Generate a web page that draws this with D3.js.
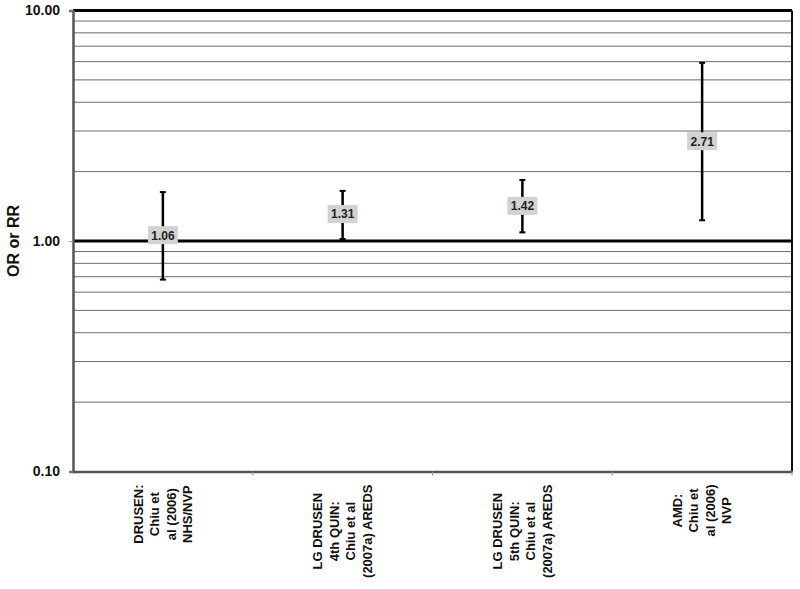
<!doctype html>
<html>
  <head>
    <meta charset="UTF-8">
    <title>OR or RR</title>
    <script src="https://d3js.org/d3.v7.min.js"></script>
    <style>
      body { margin: 0; background: #fff; }
      svg text { font-family: "Liberation Sans", Arial, sans-serif; font-weight: bold; }
    </style>
  </head>
  <body>
    <svg id="chart" width="800" height="589"></svg>
    <script>
      // Study labels (one entry per line of the rotated label)
      const categories = [
        ["DRUSEN:", "Chiu et", "al (2006)", "NHS/NVP"],
        ["LG DRUSEN", "4th QUIN:", "Chiu et al", "(2007a) AREDS"],
        ["LG DRUSEN", "5th QUIN:", "Chiu et al", "(2007a) AREDS"],
        ["AMD:", "Chiu et", "al (2006)", "NVP"]
      ];
      const estimates = [1.06, 1.31, 1.42, 2.71];
      const lower = [0.68, 1.02, 1.09, 1.23];
      const upper = [1.63, 1.65, 1.84, 5.93];
      const yTicks = [0.1, 1, 10];

      const svg = d3.select("#chart");
      const margin = {top: 10.5, right: 8, bottom: 117.5, left: 73};
      const width = 800 - margin.left - margin.right;
      const height = 589 - margin.top - margin.bottom;

      const g = svg.append("g").attr("transform", `translate(${margin.left},${margin.top})`);

      const x = d3.scaleBand().domain(d3.range(categories.length)).range([0, width]);
      const y = d3.scaleLog().domain([0.1, 10]).range([height, 0]);

      // minor grid lines (2..9 in each decade)
      const minor = y.ticks().filter(v => ![0.1, 1, 10].includes(+v.toPrecision(3)));
      g.selectAll(".grid")
        .data(minor)
        .enter().append("line")
          .attr("x1", 0).attr("x2", width)
          .attr("y1", d => y(d)).attr("y2", d => y(d))
          .attr("stroke", "#6e6e6e").attr("stroke-width", 1);

      // heavy lines at 1 and 10
      g.selectAll(".major")
        .data([1, 10])
        .enter().append("line")
          .attr("x1", 0).attr("x2", width)
          .attr("y1", d => y(d)).attr("y2", d => y(d))
          .attr("stroke", "#000").attr("stroke-width", 3);

      // right border
      g.append("line")
        .attr("x1", width).attr("x2", width)
        .attr("y1", 0).attr("y2", height)
        .attr("stroke", "#111").attr("stroke-width", 2);

      // y axis
      const yAxis = g.append("g")
        .call(d3.axisLeft(y).tickValues(yTicks).tickFormat(d3.format(".2f")).tickSize(4).tickPadding(9));
      yAxis.select(".domain").attr("stroke", "#555").attr("stroke-width", 2.5);
      yAxis.selectAll(".tick line").attr("stroke", "#999");
      yAxis.selectAll(".tick text").style("font-size", "14px").attr("fill", "#111");

      // x axis
      const xAxis = g.append("g")
        .attr("transform", `translate(0,${height})`)
        .call(d3.axisBottom(x).tickSize(0).tickFormat(""));
      xAxis.select(".domain").attr("stroke", "#555").attr("stroke-width", 2.5);
      g.selectAll(".xtick")
        .data(d3.range(1, categories.length + 1))
        .enter().append("line")
          .attr("x1", d => d * x.step()).attr("x2", d => d * x.step())
          .attr("y1", height).attr("y2", height + 4)
          .attr("stroke", "#999");

      // rotated category labels, lines centred inside a block
      const lineH = 16.5;
      categories.forEach((lines, i) => {
        const tmp = svg.append("text").style("font-size", "13px");
        let maxW = 0;
        lines.forEach(l => { tmp.text(l); maxW = Math.max(maxW, tmp.node().getComputedTextLength()); });
        tmp.remove();
        const cx = margin.left + x(i) + x.bandwidth() / 2;
        const cy = margin.top + height + 13 + maxW / 2;
        const t = svg.append("text")
          .attr("transform", `translate(${cx},${cy}) rotate(-90)`)
          .attr("text-anchor", "middle")
          .style("font-size", "13px")
          .attr("fill", "#111");
        lines.forEach((l, j) => {
          t.append("tspan")
            .attr("x", 0)
            .attr("y", (j - (lines.length - 1) / 2) * lineH + 4.5)
            .text(l);
        });
      });

      // y axis title
      svg.append("text")
        .attr("transform", `translate(19,${margin.top + y(1)}) rotate(-90)`)
        .attr("text-anchor", "middle")
        .style("font-size", "16px")
        .attr("fill", "#111")
        .text("OR or RR");

      // error bars
      const bars = g.selectAll(".bar")
        .data(estimates)
        .enter().append("g")
          .attr("transform", (d, i) => `translate(${x(i) + x.bandwidth() / 2},0)`);
      bars.append("line")
        .attr("y1", (d, i) => y(lower[i])).attr("y2", (d, i) => y(upper[i]))
        .attr("stroke", "#000").attr("stroke-width", 2.5);
      bars.append("line")
        .attr("x1", -3).attr("x2", 3)
        .attr("y1", (d, i) => y(upper[i])).attr("y2", (d, i) => y(upper[i]))
        .attr("stroke", "#000").attr("stroke-width", 2);
      bars.append("line")
        .attr("x1", -3).attr("x2", 3)
        .attr("y1", (d, i) => y(lower[i])).attr("y2", (d, i) => y(lower[i]))
        .attr("stroke", "#000").attr("stroke-width", 2);

      // value labels
      bars.append("rect")
        .attr("x", -15).attr("width", 30)
        .attr("y", d => y(d) - 9).attr("height", 18)
        .attr("fill", "#d2d2d2");
      bars.append("text")
        .attr("text-anchor", "middle")
        .attr("y", d => y(d) + 4.5)
        .style("font-size", "12px")
        .attr("fill", "#222")
        .text(d => d3.format(".2f")(d));
    </script>
  </body>
</html>
